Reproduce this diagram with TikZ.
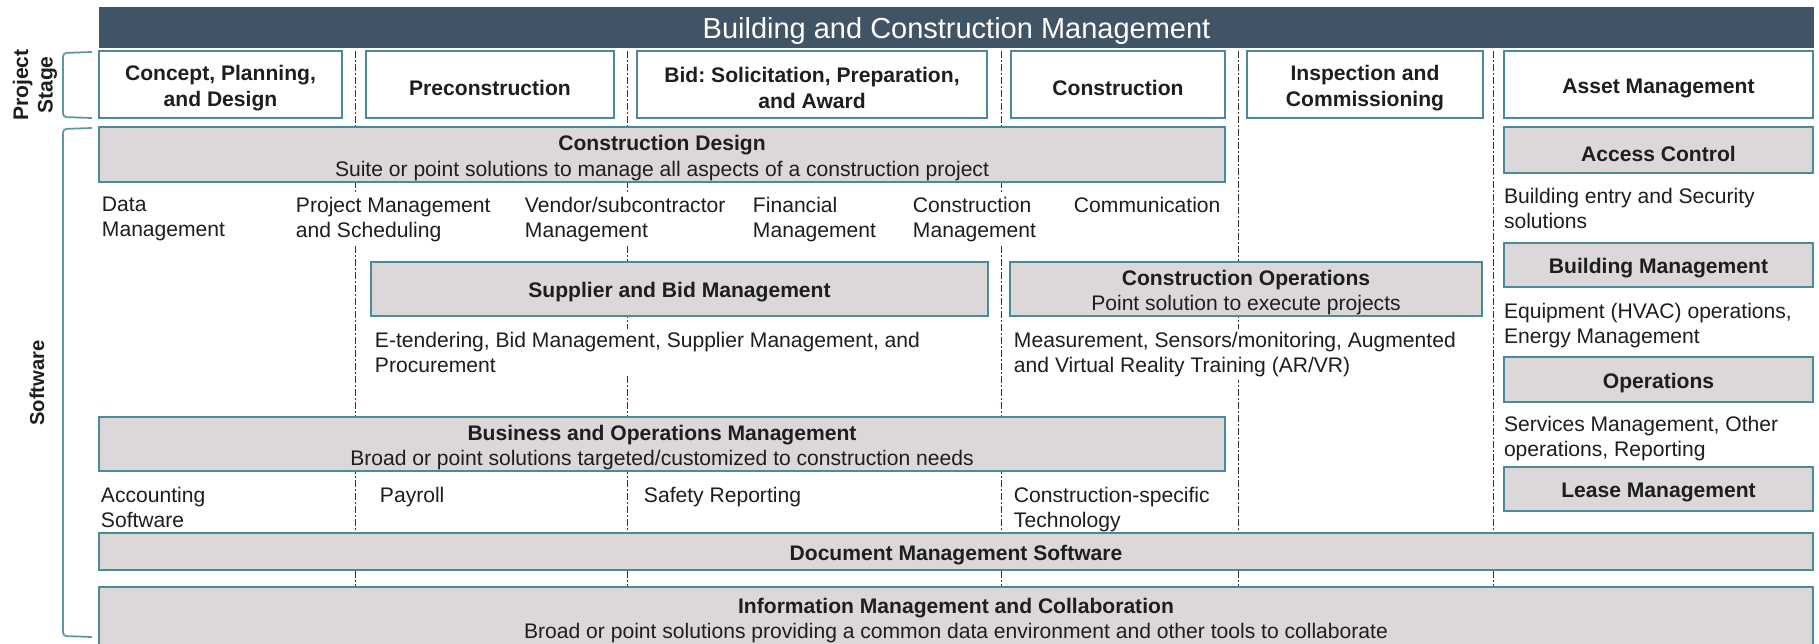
\documentclass[tikz,border=0pt]{standalone}
\usepackage{fontspec}
\setmainfont{Liberation Sans}
\usetikzlibrary{fit}

\definecolor{barslate}{HTML}{415466}
\definecolor{edgeteal}{HTML}{4A8B9B}
\definecolor{braceteal}{HTML}{5C97A5}
\definecolor{panelgray}{HTML}{DBD8D7}
\definecolor{inkgray}{HTML}{1E1E1E}

\begin{document}
\begin{tikzpicture}[
  x=0.02cm, y=-0.02cm,
  font=\fontsize{12}{14.5}\selectfont,
  text=inkgray,
  stagebox/.style={
    draw=edgeteal,
    fill=white,
    line width=1.6pt,
    inner sep=0pt
  },
  toolbox/.style={
    draw=edgeteal,
    fill=panelgray,
    line width=1.6pt,
    inner sep=0pt
  },
  boxtext/.style={align=center, inner sep=0pt, yshift=-2pt},
  stagetext/.style={align=center, inner sep=0pt, yshift=-2pt, font=\fontsize{12}{14.5}\selectfont\bfseries},
  itemtext/.style={anchor=north west, align=left, inner sep=1.5pt, fill=white},
  divider/.style={draw=black!80, line width=0.5pt, dash pattern=on 4pt off 1.2pt on 1pt off 1.2pt},
  bracket/.style={draw=braceteal, line width=1pt, rounded corners=2pt},
  sidelabel/.style={rotate=90, align=center, font=\fontsize{12}{14}\selectfont\bfseries}
]
\useasboundingbox (0,0) rectangle (1819,644);
\clip (0,0) rectangle (1819,644);

% stage dividers
\foreach \xpos in {355,627,1001,1238,1493}
  \draw[divider] (\xpos,51) -- (\xpos,587);

% header and project stages
\node[fill=barslate, inner sep=0pt, fit={(99,7) (1814,48)},
  label={[text=white, inner sep=0pt, yshift=-2pt, font=\fontsize{16.5}{18}\selectfont]center:Building and Construction Management}] (banner) {};
\node[stagebox, fit={(99,51) (342,118)}, label={[stagetext]center:Concept, Planning,\\and Design}] (concept) {};
\node[stagebox, fit={(366,51) (614,118)}, label={[stagetext]center:Preconstruction}] (precon) {};
\node[stagebox, fit={(637,51) (987,118)}, label={[stagetext]center:Bid:\ Solicitation, Preparation,\\and Award}] (bid) {};
\node[stagebox, fit={(1011,51) (1225,118)}, label={[stagetext]center:Construction}] (build) {};
\node[stagebox, fit={(1247,51) (1483,118)}, label={[stagetext]center:Inspection and\\Commissioning}] (inspect) {};
\node[stagebox, fit={(1504,51) (1813,118)}, label={[stagetext]center:Asset Management}] (asset) {};

% side brackets
\draw[bracket] (92,52) -- (63,53) -- (63,117) -- (92,118);
\draw[bracket] (92,128) -- (63,129) -- (63,636) -- (92,637);
\node[sidelabel] (stagelabel) at (35,85) {Project\\Stage};
\node[sidelabel, font=\fontsize{11.5}{14}\selectfont\bfseries] (softlabel) at (37,383) {Software};

% item lists
\node[itemtext] (datamgmt) at (99,194) {Data\\Management};
\node[itemtext] (pmsched) at (293,194) {Project Management\\and Scheduling};
\node[itemtext] (vendor) at (522,194) {Vendor/subcontractor\\Management};
\node[itemtext] (finance) at (750,194) {Financial\\Management};
\node[itemtext] (constmgmt) at (910,194) {Construction\\Management};
\node[itemtext] (comms) at (1071,194) {Communication};
\node[itemtext] (entry) at (1501,185) {Building entry and Security\\solutions};
\node[itemtext] (equip) at (1501,300) {Equipment (HVAC) operations,\\Energy Management};
\node[itemtext] (services) at (1501,413) {Services Management, Other\\operations, Reporting};
\node[itemtext] (etender) at (372,329) {E-tendering, Bid Management, Supplier Management, and\\Procurement};
\node[itemtext] (measure) at (1011,329) {Measurement, Sensors/monitoring, Augmented\\and Virtual Reality Training (AR/VR)};
\node[itemtext] (accounting) at (98,484) {Accounting\\Software};
\node[itemtext] (payroll) at (377,484) {Payroll};
\node[itemtext] (safety) at (641,484) {Safety Reporting};
\node[itemtext] (techspec) at (1011,484) {Construction-specific\\Technology};

% software boxes
\node[toolbox, fit={(99,127) (1225,182)}, label={[boxtext]center:\textbf{Construction Design}\\Suite or point solutions to manage all aspects of a construction project}] (design) {};
\node[toolbox, fit={(1504,127) (1813,173)}, label={[boxtext]center:\textbf{Access Control}}] (access) {};
\node[toolbox, fit={(371,262) (988,316)}, label={[boxtext]center:\textbf{Supplier and Bid Management}}] (supplier) {};
\node[toolbox, fit={(1010,262) (1482,316)}, label={[boxtext]center:\textbf{Construction Operations}\\Point solution to execute projects}] (siteops) {};
\node[toolbox, fit={(1504,243) (1813,287)}, label={[boxtext]center:\textbf{Building Management}}] (bldgmgmt) {};
\node[toolbox, fit={(1504,357) (1813,402)}, label={[boxtext]center:\textbf{Operations}}] (operations) {};
\node[toolbox, fit={(99,417) (1225,471)}, label={[boxtext]center:\textbf{Business and Operations Management}\\Broad or point solutions targeted/customized to construction needs}] (business) {};
\node[toolbox, fit={(1504,467) (1813,511)}, label={[boxtext]center:\textbf{Lease Management}}] (lease) {};
\node[toolbox, fit={(99,533) (1813,570)}, label={[boxtext]center:\textbf{Document Management Software}}] (documents) {};
\node[toolbox, fit={(99,587) (1813,647)}, label={[boxtext]center:\textbf{Information Management and Collaboration}\\Broad or point solutions providing a common data environment and other tools to collaborate}] (infomgmt) {};
\end{tikzpicture}
\end{document}
